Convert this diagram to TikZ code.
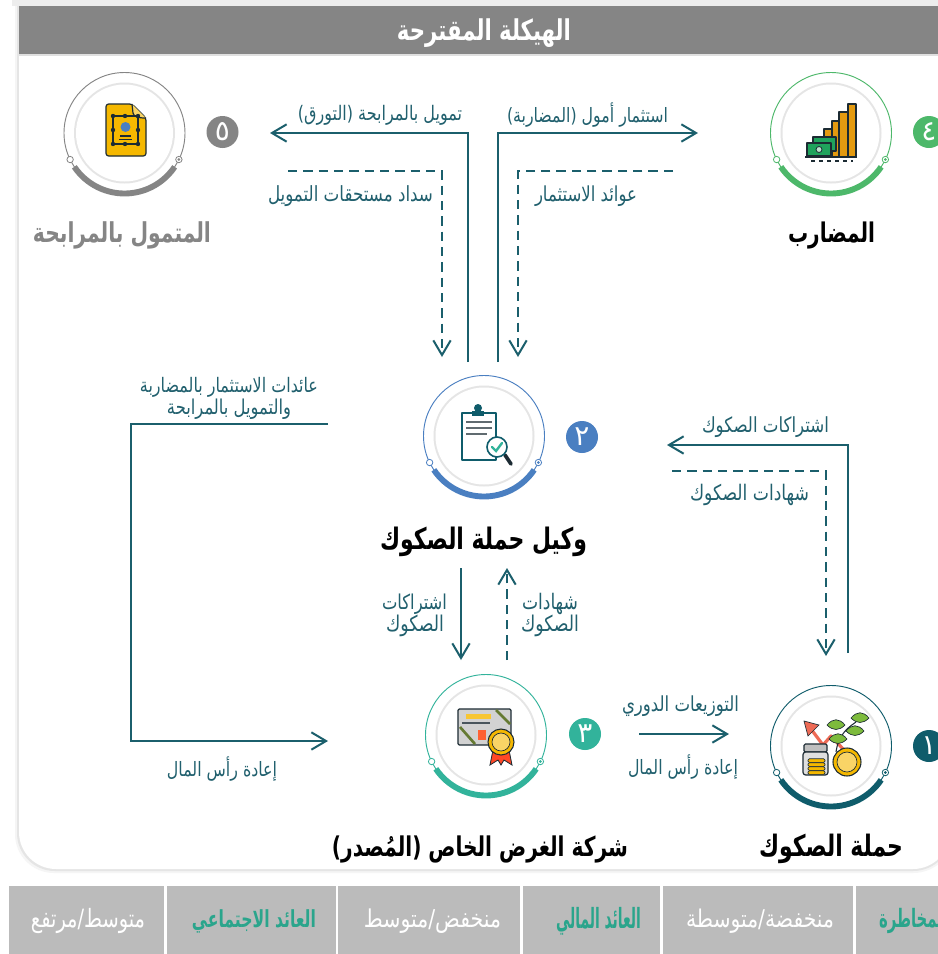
\documentclass[tikz,border=0pt]{standalone}
\usepackage{fontspec}
\usetikzlibrary{arrows.meta}
\TeXXeTstate=1
\newfontfamily\arabicfont[Script=Arabic]{DejaVu Sans}
\newfontfamily\arabicbold[Script=Arabic]{DejaVu Sans Bold}
\definecolor{linecol}{HTML}{1B5F6C}
\definecolor{lblcol}{HTML}{21606E}
\definecolor{headgray}{HTML}{858585}
\definecolor{cellgray}{HTML}{BBBBBB}
\definecolor{cgray}{HTML}{858585}
\definecolor{cgreen}{HTML}{4DB86A}
\definecolor{cblue}{HTML}{4A7FC1}
\definecolor{cteal}{HTML}{32B39B}
\definecolor{cdark}{HTML}{0F5C6B}
\definecolor{tealtxt}{HTML}{2AA58C}
\definecolor{gold}{HTML}{F5B800}
\definecolor{orng}{HTML}{E39A10}
\definecolor{money}{HTML}{1FA35C}
\definecolor{ink}{HTML}{1C2B33}
\definecolor{leaf}{HTML}{7DBB3C}
\definecolor{redarrow}{HTML}{EE6A55}
\tikzset{
  solidline/.style={draw=linecol,line width=1.5pt},
  dashline/.style={draw=linecol,line width=1.3pt,dash pattern=on 7pt off 4.5pt},
  tip/.style={-{Straight Barb[length=11pt,width=13pt,line width=1.5pt]}},
  lbl/.style={inner sep=0pt,outer sep=0pt,text=lblcol},
  badge/.style={circle,minimum size=24pt,inner sep=0pt,text=white},
  cellbox/.style={fill=cellgray,draw=none},
  iconline/.style={draw=ink,line width=0.9pt,line join=round}
}
% x1 x2 y name font colour vstretch text
\newcommand{\artext}[8]{%
  \pgfmathsetlengthmacro{\mywd}{(#2-#1)*0.75pt}%
  \node[lbl,text=#6] (#4) at ({(#1+#2)/2},#3) {\scalebox{1}[#7]{\resizebox{\mywd}{!}{\hbox{#5#8}}}};}
\newcommand{\stage}[4]{% name cx cy colour
  \node[circle,minimum size=90.75pt,inner sep=0pt,draw=#4,line width=0.7pt] (#1) at (#2,#3) {};
  \fill[gray!20] (#2,#3) circle[radius=50.5];
  \fill[white] (#2,#3) circle[radius=48.5];
  \begin{scope}[shift={(#2,#3)},y=0.75pt]
    \draw[#4,line width=4.4pt] (214:60.5) arc[start angle=214,end angle=326,radius=60.5];
    \draw[#4,fill=white,line width=0.6pt] (206:60.5) circle[radius=3.2];
    \draw[#4,fill=white,line width=0.6pt] (334:60.5) circle[radius=3.2];
    \fill[#4] (334:60.5) circle[radius=1.5];
  \end{scope}}
\begin{document}
\begin{tikzpicture}[x=0.75pt,y=-0.75pt]
\useasboundingbox (0,0) rectangle (938,954);
\clip (0,0) rectangle (938,954);
\fill[white] (0,0) rectangle (938,954);
% top shadow and panel
\fill[gray!14] (12,0) rectangle (938,6);
\fill[gray!8] (15,6) -- (15,834) arc[start angle=180,end angle=90,radius=39] -- (913,873) arc[start angle=90,end angle=0,radius=41] -- (954,6) -- cycle;
\fill[gray!20] (17,6) -- (17,833) arc[start angle=180,end angle=90,radius=38] -- (913,871) arc[start angle=90,end angle=0,radius=39] -- (952,6) -- cycle;
\fill[white] (19,6) -- (19,832) arc[start angle=180,end angle=90,radius=37] -- (913,869) arc[start angle=90,end angle=0,radius=37] -- (950,6) -- cycle;
\fill[headgray] (19,6) rectangle (938,54);
\fill[gray!25] (19,54) rectangle (938,56);
\artext{397}{571}{33}{title}{\arabicbold}{white}{1.35}{\beginR الهيكلة المقترحة\endR}
% stages
\stage{holdagent}{484}{436}{cblue}
\stage{spv}{486}{735}{cteal}
\stage{holders}{831}{746}{cdark}
\stage{mudarib}{831}{133}{cgreen}
\stage{client}{124.5}{133}{cgray}
% badges
\node[badge,fill=cdark] (b1) at (929,746) {\arabicfont\fontsize{21}{21}\selectfont ١};
\node[badge,fill=cblue] (b2) at (582,437) {\arabicfont\fontsize{21}{21}\selectfont ٢};
\node[badge,fill=cteal] (b3) at (585,734) {\arabicfont\fontsize{21}{21}\selectfont ٣};
\node[badge,fill=cgreen] (b4) at (929,132) {\arabicfont\fontsize{21}{21}\selectfont ٤};
\node[badge,fill=cgray] (b5) at (222.5,132) {\arabicfont\fontsize{21}{21}\selectfont ٥};
% icon: document
\draw[iconline,fill=gold,rounded corners=2pt] (106,104) -- (132,104) -- (146,118) -- (146,156) -- (106,156) -- cycle;
\draw[iconline,fill=gold!60!white] (132,104) -- (133,113) .. controls (134,117) and (138,118) .. (146,118);
\draw[iconline] (113,116) rectangle (138,144);
\foreach \px/\py in {113/116,125/116,138/116,113/130,138/130,113/144,125/144,138/144}
  \fill[ink] (\px,\py) circle[radius=2.2];
\fill[cblue] (125.5,127) circle[radius=5];
\fill[ink] (120,135) rectangle (131,137);
\fill[ink] (119,139) rectangle (132,140);
% icon: bars and money
\foreach \xa/\xb/\yt in {848/856/104,839/848/112,832/839/121,824/832/129}
  \draw[iconline,fill=orng] (\xa,\yt) rectangle (\xb,157);
\draw[iconline,fill=money] (813,137) rectangle (836,151);
\draw[iconline,fill=money] (807,143) rectangle (831,156);
\draw[draw=ink,line width=0.6pt,fill=white!70!money] (819,149.5) circle[radius=3];
\draw[iconline] (805,157) -- (857,157);
\draw[ink,line width=0.9pt,dash pattern=on 3pt off 3pt] (811,161) -- (853,161);
% icon: clipboard
\draw[draw=cdark,line width=1.1pt,fill=white,line join=round] (462,413) rectangle (496,460);
\fill[cdark] (478,408) circle[radius=4];
\fill[cdark] (472,411) rectangle (484,416);
\foreach \ly/\lx in {422/492,428/492,434/487}
  \draw[ink!70,line width=1pt] (466,\ly) -- (\lx,\ly);
\draw[ink,line width=2.8pt,line cap=round] (505,455) -- (511,464);
\draw[cdark,line width=1.2pt,fill=white] (497,447) circle[radius=10];
\draw[cteal,line width=1.8pt,line cap=round] (492,447) -- (496,451) -- (502,443);
% icon: certificate
\draw[iconline,fill=gray!35,rounded corners=1pt] (458,709) rectangle (511,745);
\fill[gold!80!white] (466,714) rectangle (491,719);
\draw[ink!80,line width=0.8pt] (462,723) -- (490,723);
\fill[red!55!orange!80!white] (478,730) rectangle (486,740);
\draw[olive!60!green!70!black,line width=2pt] (460,727) -- (475,744);
\draw[olive!60!green!70!black,line width=2pt] (496,710) -- (510,724);
\fill[red!70!orange!85!white,draw=ink,line width=0.6pt] (493,750) -- (490,765) -- (498,760) -- (501,765) -- (504,760) -- (512,765) -- (509,750) -- cycle;
\draw[draw=ink,line width=0.8pt,fill=gold] (501,742) circle[radius=13];
\draw[draw=ink,line width=0.5pt,fill=gold!60!white] (501,742) circle[radius=9];
% icon: growth
\draw[draw=redarrow,line width=2.4pt,line join=round] (844,750) -- (831,736) -- (823,745) -- (811,729);
\fill[redarrow,draw=ink,line width=0.5pt] (804,721) -- (819,725) -- (808,736) -- cycle;
\draw[ink,line width=0.8pt] (836,752) .. controls (838,738) and (844,730) .. (856,722);
\foreach \lx/\ly in {860/718,855/731,836/725,838/739}
  \draw[draw=ink,line width=0.5pt,fill=leaf] (\lx-9,\ly) .. controls (\lx-3,\ly-7) and (\lx+3,\ly-7) .. (\lx+9,\ly) .. controls (\lx+3,\ly+6) and (\lx-3,\ly+6) .. cycle;
\draw[iconline,fill=gray!50,rounded corners=1pt] (804,744) rectangle (827,752);
\draw[iconline,fill=gray!25,rounded corners=2pt] (803,752) rectangle (828,775);
\foreach \cy in {761,765,769,773}
  \draw[draw=ink,line width=0.5pt,fill=gold,rounded corners=1pt] (808,\cy-2.2) rectangle (825,\cy+1.4);
\draw[draw=ink,line width=0.8pt,fill=gold] (847,762) circle[radius=14];
\draw[draw=ink,line width=0.5pt,fill=gold!60!white] (847,762) circle[radius=10];
% connector anchors
\coordinate (a1) at (468,362); \coordinate (a2) at (468,133); \coordinate (a3) at (270,133);
\coordinate (b1c) at (498,362); \coordinate (b2c) at (498,133); \coordinate (b3c) at (698,133);
\coordinate (c1) at (288,171); \coordinate (c2) at (442,171); \coordinate (c3) at (442,357);
\coordinate (d1) at (673,171); \coordinate (d2) at (518,171); \coordinate (d3) at (518,357);
\coordinate (e1) at (328,424); \coordinate (e2) at (131,424); \coordinate (e3) at (131,741); \coordinate (e4) at (328,741);
\coordinate (f1) at (848,653); \coordinate (f2) at (848,445); \coordinate (f3) at (667,445);
\coordinate (g1) at (672,471); \coordinate (g2) at (826,471); \coordinate (g3) at (826,656);
\coordinate (h1) at (461,568); \coordinate (h2) at (461,660);
\coordinate (i1) at (507,660); \coordinate (i2) at (507,568);
\coordinate (j1) at (639,734); \coordinate (j2) at (729,734);
% connectors
\draw[solidline,tip] (a1) -- (a2) -- (a3);
\draw[solidline,tip] (b1c) -- (b2c) -- (b3c);
\draw[dashline,tip] (c1) -- (c2) -- (c3);
\draw[dashline,tip] (d1) -- (d2) -- (d3);
\draw[solidline,tip] (e1) -- (e2) -- (e3) -- (e4);
\draw[solidline,tip] (f1) -- (f2) -- (f3);
\draw[dashline,tip] (g1) -- (g2) -- (g3);
\draw[solidline,tip] (h1) -- (h2);
\draw[dashline,tip] (i1) -- (i2);
\draw[solidline,tip] (j1) -- (j2);
% connector labels
\artext{298}{462}{115}{l1}{\arabicfont}{lblcol}{1.25}{\beginR تمويل بالمرابحة (التورق)\endR}
\artext{268}{433}{196}{l2}{\arabicfont}{lblcol}{1.25}{\beginR سداد مستحقات التمويل\endR}
\artext{507}{668}{115}{l3}{\arabicfont}{lblcol}{1.25}{\beginR استثمار أمول (المضاربة)\endR}
\artext{535}{637}{196}{l4}{\arabicfont}{lblcol}{1.25}{\beginR عوائد الاستثمار\endR}
\artext{140}{318}{387}{l5}{\arabicfont}{lblcol}{1.25}{\beginR عائدات الاستثمار بالمضاربة\endR}
\artext{167}{291}{409}{l6}{\arabicfont}{lblcol}{1.25}{\beginR والتمويل بالمرابحة\endR}
\artext{702}{829}{427}{l7}{\arabicfont}{lblcol}{1.25}{\beginR اشتراكات الصكوك\endR}
\artext{690}{809}{495}{l8}{\arabicfont}{lblcol}{1.25}{\beginR شهادات الصكوك\endR}
\artext{382}{447}{604}{l9}{\arabicfont}{lblcol}{1.25}{\beginR اشتراكات\endR}
\artext{386}{444}{626}{l10}{\arabicfont}{lblcol}{1.25}{\beginR الصكوك\endR}
\artext{522}{578}{604}{l11}{\arabicfont}{lblcol}{1.25}{\beginR شهادات\endR}
\artext{521}{579}{626}{l12}{\arabicfont}{lblcol}{1.25}{\beginR الصكوك\endR}
\artext{622}{739}{706}{l13}{\arabicfont}{lblcol}{1.25}{\beginR التوزيعات الدوري\endR}
\artext{628}{738}{767}{l14}{\arabicfont}{lblcol}{1.25}{\beginR إعادة رأس المال\endR}
\artext{167}{277}{769}{l15}{\arabicfont}{lblcol}{1.25}{\beginR إعادة رأس المال\endR}
% party names
\artext{33}{211}{235}{n5}{\arabicbold}{cgray}{1.35}{\beginR المتمول بالمرابحة\endR}
\artext{788}{875}{235}{n4}{\arabicbold}{black}{1.35}{\beginR المضارب\endR}
\artext{380}{587}{542}{n2}{\arabicbold}{black}{1.35}{\beginR وكيل حملة الصكوك\endR}
\artext{332}{628}{849}{n3}{\arabicbold}{black}{1.35}{\beginR شركة الغرض الخاص (المُصدر)\endR}
\artext{759}{903}{849}{n1}{\arabicbold}{black}{1.35}{\beginR حملة الصكوك\endR}
% bottom cells
\fill[cellbox] (9,886) rectangle (164,954);
\fill[cellbox] (167,886) rectangle (336,954);
\fill[cellbox] (338,886) rectangle (520,954);
\fill[cellbox] (523,886) rectangle (660,954);
\fill[cellbox] (663,886) rectangle (853,954);
\fill[cellbox] (856,886) rectangle (938,954);
\artext{31}{145}{921}{t1}{\arabicfont}{white}{1.3}{\beginR متوسط/مرتفع\endR}
\artext{192}{316}{921}{t2}{\arabicbold}{tealtxt}{1.5}{\beginR العائد الاجتماعي\endR}
\artext{364}{501}{921}{t3}{\arabicfont}{white}{1.2}{\beginR منخفض/متوسط\endR}
\artext{556}{641}{921}{t4}{\arabicbold}{tealtxt}{2}{\beginR العائد المالي\endR}
\artext{686}{834}{921}{t5}{\arabicfont}{white}{1.2}{\beginR منخفضة/متوسطة\endR}
\artext{879}{948}{921}{t6}{\arabicbold}{tealtxt}{1.7}{\beginR المخاطرة\endR}
\end{tikzpicture}
\end{document}
